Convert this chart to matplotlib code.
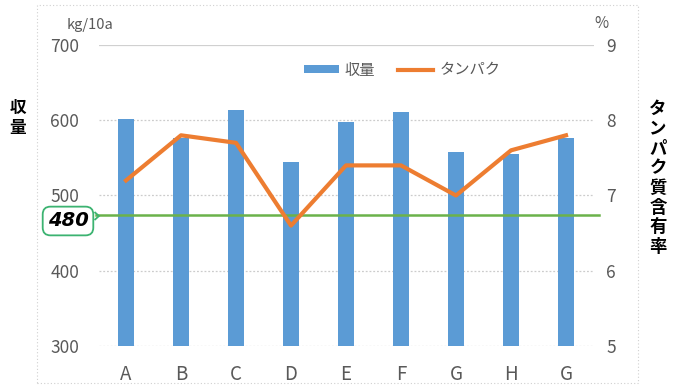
#!/usr/bin/env python3

import matplotlib.pyplot as plt
from matplotlib.patches import Rectangle, Polygon

plt.rcParams["font.family"] = ["Noto Sans CJK JP", "DejaVu Sans"]

# data
categories = ["A", "B", "C", "D", "E", "F", "G", "H", "G"]
yield_kg = [601, 577, 614, 544, 598, 611, 558, 555, 576]
protein_pct = [7.2, 7.8, 7.7, 6.6, 7.4, 7.4, 7.0, 7.6, 7.8]
target_line = 474
target_label = "480"

left_ticks = [300, 400, 500, 600, 700]
right_ticks = [5, 6, 7, 8, 9]

blue = "#5B9BD5"
orange = "#ED7D31"
green = "#6BB24A"
gray = "#595959"

W, H = 673, 385
fig = plt.figure(figsize=(W / 100, H / 100), dpi=100)
ax = fig.add_axes([98.5 / W, 1 - 346 / H, 495 / W, 301 / H])
ax2 = ax.twinx()

x = list(range(len(categories)))

# grid
for v in left_ticks:
    if v == 700:
        ax.axhline(v, color="#d0d0d0", lw=0.9, zorder=0)
    else:
        ax.axhline(v, color="#cccccc", lw=0.9, ls=(0, (1.5, 1.5)), zorder=0)

ax.bar(x, yield_kg, width=0.3, color=blue, zorder=2, label="収量")
ax.plot([-0.55, 8.6], [target_line, target_line], color=green, lw=1.8,
        zorder=3, clip_on=False)

ax.set_xlim(-0.5, len(categories) - 0.5)
ax.set_ylim(300, 700)
ax.set_yticks(left_ticks)
ax.set_xticks(x)
ax.set_xticklabels(categories)

ax2.plot(x, protein_pct, color=orange, lw=3, zorder=4, label="タンパク")
ax2.set_ylim(5, 9)
ax2.set_yticks(right_ticks)

ax.set_zorder(ax2.get_zorder() - 1)
ax.patch.set_visible(False)
ax2.patch.set_visible(False)

for a in (ax, ax2):
    for s in a.spines.values():
        s.set_visible(False)
    a.tick_params(length=0, labelsize=12.5, labelcolor=gray)
ax.tick_params(axis="y", pad=14)
ax.tick_params(axis="x", pad=13, labelsize=13.5)
ax2.tick_params(axis="y", pad=9)

# unit labels
fig.text(90 / W, 1 - 25 / H, "kg/10a", ha="center", va="center",
         fontsize=10.5, color=gray)
fig.text(601 / W, 1 - 24 / H, "%", ha="center", va="center",
         fontsize=11, color=gray)

# axis titles, stacked vertically
fig.text(18 / W, 1 - 118 / H, "\n".join("収量"), ha="center", va="center",
         fontsize=12, fontweight="bold", linespacing=1.1)
fig.text(658 / W, 1 - 178 / H, "\n".join("タンパク質含有率"), ha="center",
         va="center", fontsize=12.5, fontweight="bold", linespacing=1.12)

# legend
h1, l1 = ax.get_legend_handles_labels()
h2, l2 = ax2.get_legend_handles_labels()
leg = fig.legend(h1 + h2, l1 + l2, loc="center", ncol=2,
                 bbox_to_anchor=(402 / W, 1 - 70 / H), frameon=False,
                 fontsize=11, handlelength=2.3, handleheight=0.5,
                 columnspacing=1.5, handletextpad=0.4)
for t in leg.get_texts():
    t.set_color(gray)

# callout for the target line
fig.text(68 / W, 1 - 221 / H, target_label, ha="center", va="center",
         fontsize=14, fontweight="bold", style="italic",
         family=["DejaVu Sans"], zorder=5,
         bbox=dict(boxstyle="round,pad=0.25,rounding_size=0.4", fc="white",
                   ec="#3CB371", lw=1.3))
fig.patches.append(Polygon([(94.5 / W, 1 - 212 / H), (99 / W, 1 - 216 / H),
                            (94.5 / W, 1 - 220 / H)],
                           closed=False, transform=fig.transFigure,
                           fill=False, ec="#3CB371", lw=1.3, zorder=6))

# dotted chart frame
fig.patches.append(Rectangle((37 / W, 1 - 383 / H), 601 / W, 378 / H,
                             transform=fig.transFigure, fill=False,
                             ec="#d0d0d0", lw=0.8, ls=(0, (1, 2))))

fig.savefig("out.png", dpi=100)
